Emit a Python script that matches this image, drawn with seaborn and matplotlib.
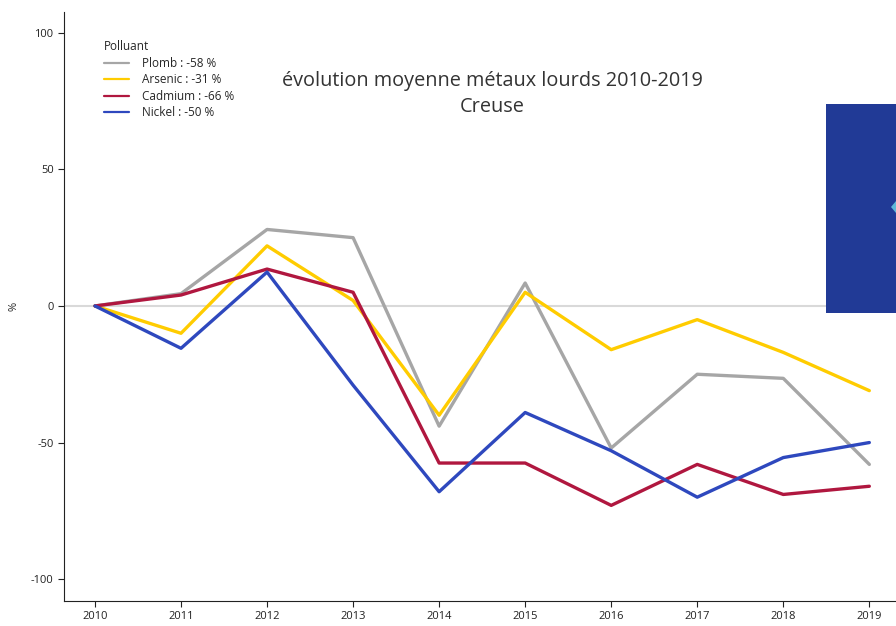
import matplotlib
matplotlib.use("Agg")
import matplotlib.pyplot as plt
import seaborn as sns
import pandas as pd
from matplotlib.patches import Rectangle, Polygon

years = [2010, 2011, 2012, 2013, 2014, 2015, 2016, 2017, 2018, 2019]
plomb = [0, 4.5, 28, 25, -44, 8.4, -52, -25, -26.5, -58]
arsenic = [0, -10, 22, 2, -40, 5, -16, -5, -17, -31]
cadmium = [0, 4, 13.5, 5, -57.5, -57.5, -73, -58, -69, -66]
nickel = [0, -15.5, 12.4, -29, -68, -39, -53, -70, -55.5, -50]
labels = ["Plomb : -58 %", "Arsenic : -31 %", "Cadmium : -66 %", "Nickel : -50 %"]
colors = ["#A6A6A6", "#FFCC00", "#B0173F", "#2E48BE"]
title = "évolution moyenne métaux lourds 2010-2019\nCreuse"

rows = []
for lab, vals in zip(labels, [plomb, arsenic, cadmium, nickel]):
    for y, v in zip(years, vals):
        rows.append({"annee": y, "valeur": v, "Polluant": lab})
df = pd.DataFrame(rows)

sns.set_theme(style="ticks")
plt.rcParams['font.family'] = ['Open Sans', 'DejaVu Sans']

fig = plt.figure(figsize=(8.96, 6.26), dpi=100)
ax = fig.add_axes([64 / 896, 25 / 626, 1 - 64 / 896, (601 - 12) / 626])

ax.axhline(0, color="#D9D9D9", lw=1.5, zorder=0)
sns.lineplot(data=df, x="annee", y="valeur", hue="Polluant",
             palette=dict(zip(labels, colors)), linewidth=2.4, ax=ax,
             legend=True)

ax.set_xlim(2009.64, 2019.31)
ax.set_ylim(-108, 107.6)
ax.set_xticks(years)
ax.set_xticklabels([str(y) for y in years], fontsize=8)
ax.set_yticks([-100, -50, 0, 50, 100])
ax.set_yticklabels(["-100", "-50", "0", "50", "100"], fontsize=8)
ax.set_xlabel("")
ax.set_ylabel("%", fontsize=8, labelpad=8)
ax.tick_params(axis="both", length=4, width=0.8, colors="#222222")
for s in ["top", "right"]:
    ax.spines[s].set_visible(False)
for s in ["left", "bottom"]:
    ax.spines[s].set_linewidth(0.8)
    ax.spines[s].set_color("#222222")

leg = ax.legend(title="Polluant", loc="upper left", bbox_to_anchor=(0.035, 0.97),
                frameon=False, fontsize=8.5, title_fontsize=8.5, handlelength=2.1,
                labelspacing=0.3, handletextpad=1.1)
leg._legend_box.align = "left"
for line in leg.get_lines():
    line.set_linewidth(1.6)

fig.text(492 / 896, 1 - 94 / 626, title, ha="center", va="center",
         fontsize=14.3, color="#333333", linespacing=1.45)

fig.patches.append(Rectangle((826 / 896, 1 - 313 / 626), 80 / 896, 209 / 626,
                             transform=fig.transFigure, facecolor="#213A96",
                             edgecolor="none", zorder=5))
fig.patches.append(Polygon([(891 / 896, 1 - 207 / 626), (896 / 896, 1 - 201 / 626),
                            (896 / 896, 1 - 213 / 626)],
                           closed=True, transform=fig.transFigure,
                           facecolor="#5FB8D8", edgecolor="none", zorder=6))

fig.savefig("out.png", dpi=100)
